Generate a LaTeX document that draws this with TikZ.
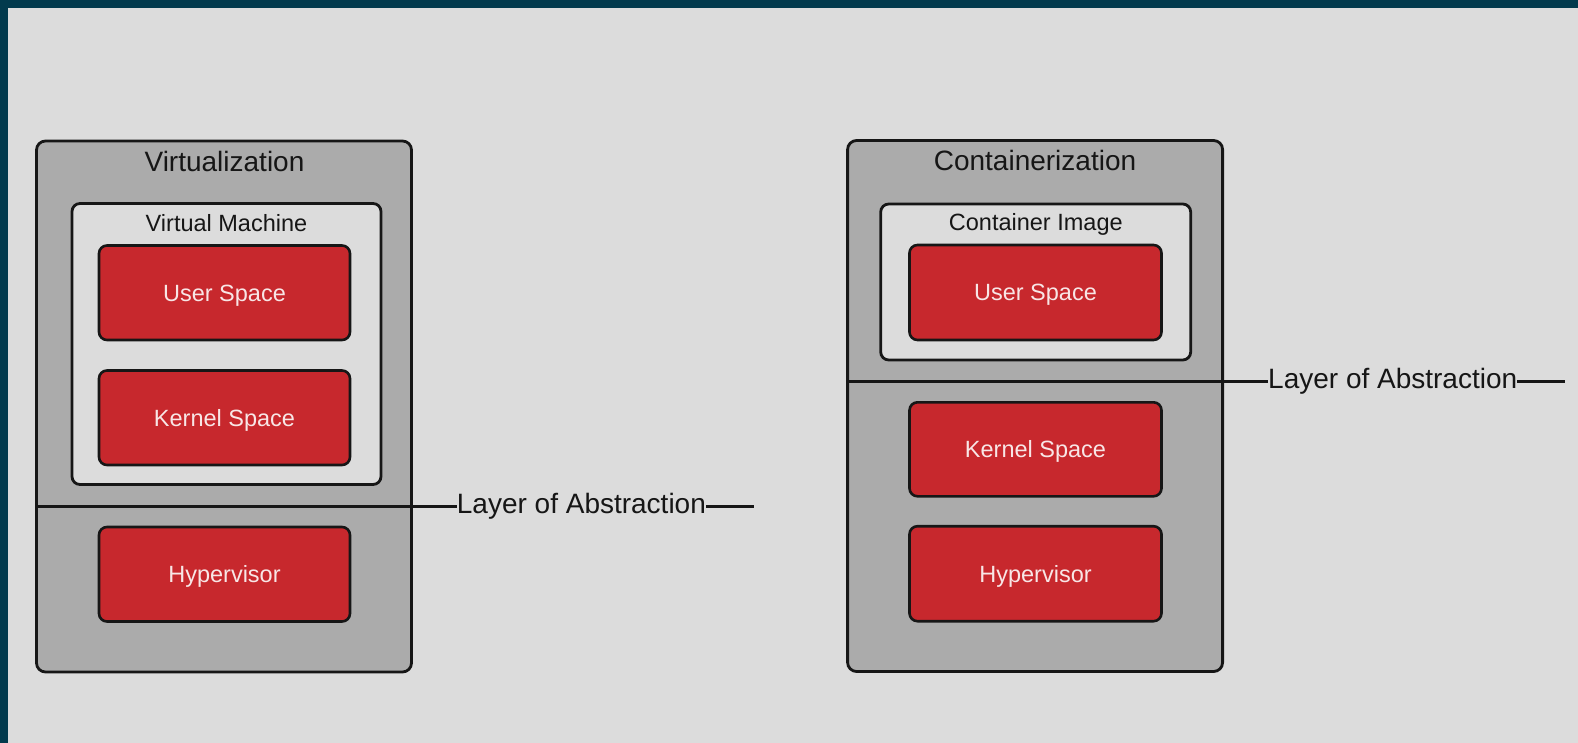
\documentclass[tikz,border=0pt]{standalone}
\usepackage{fontspec}
\setmainfont{Liberation Sans}
\definecolor{band}{HTML}{023A4D}
\definecolor{paper}{HTML}{DCDCDC}
\definecolor{shell}{HTML}{ABABAB}
\definecolor{layer}{HTML}{C7282D}
\definecolor{layertext}{HTML}{F8E6E6}
\definecolor{ink}{HTML}{161616}
\tikzset{
  outerbox/.style={draw=ink, line width=2.8pt, fill=shell, rounded corners=9pt,
    minimum width=375pt, minimum height=531pt, inner sep=0pt},
  innerbox/.style={draw=ink, line width=2.8pt, fill=paper, rounded corners=8pt,
    minimum width=309pt, inner sep=0pt},
  layerbox/.style={draw=ink, line width=2.6pt, fill=layer, rounded corners=8pt,
    minimum width=251pt, minimum height=94.5pt, inner sep=0pt,
    text=layertext, font=\fontsize{23.5}{26}\selectfont,
    text height=16.8pt, text depth=0pt},
  bigtitle/.style={anchor=base, inner sep=0pt, text=ink, font=\fontsize{28}{32}\selectfont},
  smalltitle/.style={anchor=base, inner sep=0pt, text=ink, font=\fontsize{23.5}{26}\selectfont},
  abstraction/.style={anchor=west, inner sep=0pt, text=ink, font=\fontsize{28}{32}\selectfont,
    text height=20pt, text depth=6pt},
  divider/.style={draw=ink, line width=2.6pt},
}
\begin{document}
\begin{tikzpicture}[x=1pt, y=-1pt]
  % page background and dark frame
  \fill[paper] (0,0) rectangle (1578,743);
  \fill[band] (0,0) rectangle (1578,8);
  \fill[band] (0,0) rectangle (8,743);
  \useasboundingbox (0,0) rectangle (1578,743);

  % ---- Virtualization stack ----
  \node[outerbox] (virt) at (224,406.5) {};
  \node[bigtitle] (virttitle) at (224.5,171.5) {Virtualization};
  \node[innerbox, minimum height=281pt] (vm) at (226.5,344) {};
  \node[smalltitle] (vmtitle) at (226.5,231.5) {Virtual Machine};
  \node[layerbox] (vuser) at (224.5,292.75) {User Space};
  \node[layerbox] (vkernel) at (224.5,417.75) {Kernel Space};
  \node[layerbox] (vhyper) at (224.5,574.25) {Hypervisor};

  \coordinate (vdivstart) at (virt.west |- 0,506.5);
  \node[abstraction] (vlayer) at (456.7,506.5) {Layer of Abstraction};
  \coordinate (vdivend) at (754,506.5);
  \draw[divider] (vdivstart) -- (vlayer.west);
  \draw[divider] (vlayer.east) -- (vdivend);

  % ---- Containerization stack ----
  \node[outerbox] (cont) at (1035.1,406) {};
  \node[bigtitle] (conttitle) at (1035,170.7) {Containerization};
  \node[innerbox, minimum width=310pt, minimum height=156pt] (img) at (1035.7,282) {};
  \node[smalltitle] (imgtitle) at (1035.8,230.7) {Container Image};
  \node[layerbox, minimum width=252pt, minimum height=95pt] (cuser) at (1035.5,292.5) {User Space};
  \node[layerbox, minimum width=252pt, minimum height=94pt] (ckernel) at (1035.5,449.3) {Kernel Space};
  \node[layerbox, minimum width=252pt, minimum height=95pt] (chyper) at (1035.5,573.7) {Hypervisor};

  \coordinate (cdivstart) at (cont.west |- 0,381.5);
  \node[abstraction] (clayer) at (1268,381.5) {Layer of Abstraction};
  \coordinate (cdivend) at (1565,381.5);
  \draw[divider] (cdivstart) -- (clayer.west);
  \draw[divider] (clayer.east) -- (cdivend);
\end{tikzpicture}
\end{document}
